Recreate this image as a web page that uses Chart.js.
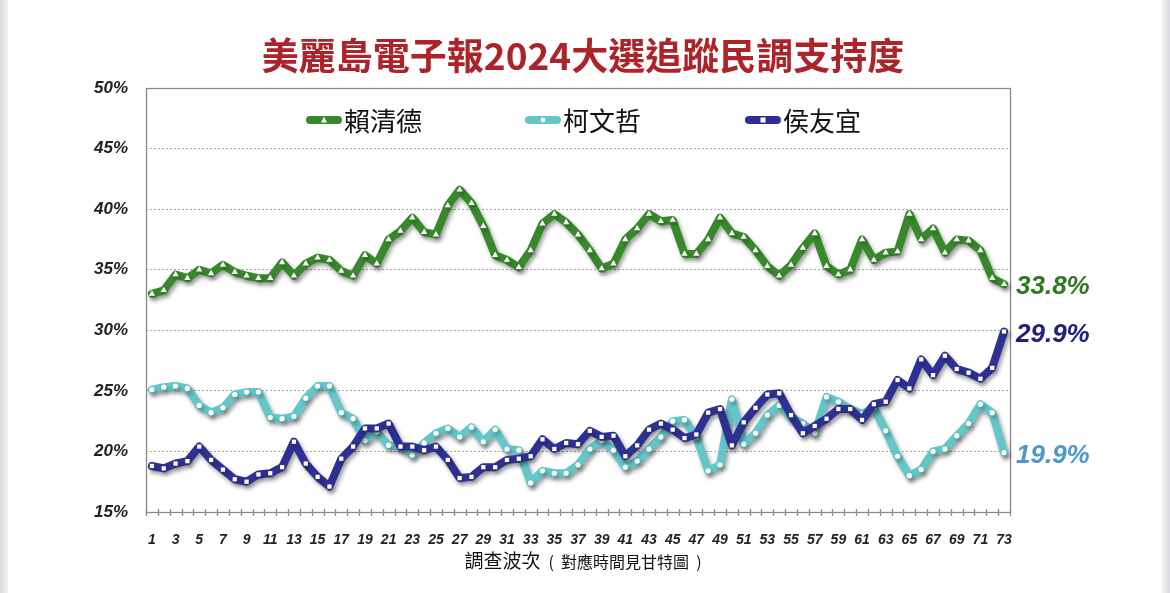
<!DOCTYPE html>
<html>
<head>
<meta charset="utf-8">
<script src="https://cdn.jsdelivr.net/npm/chart.js@4.4.1/dist/chart.umd.min.js"></script>
<style>
  html, body { margin: 0; padding: 0; background: #ffffff; }
  #wrap { position: relative; width: 1170px; height: 593px; overflow: hidden; }
  #c { position: absolute; left: 0; top: 0; }
  .strip { position: absolute; top: 0; width: 8px; height: 593px; }
  #sl { left: 0; background: linear-gradient(to right, #d9d9de, #f3f3f5); }
  #sr { left: 1162px; background: linear-gradient(to left, #d9d9de, #f3f3f5); }
</style>
</head>
<body>
<div id="wrap">
  <canvas id="c" width="1170" height="593"></canvas>
  <div class="strip" id="sl"></div>
  <div class="strip" id="sr"></div>
</div>
<script>
const chartTitle = "美麗島電子報2024大選追蹤民調支持度";
const xTitleMain = "調查波次";
const xTitleSub = "(  對應時間見甘特圖  )";
const waves = Array.from({length: 73}, (_, i) => String(i + 1));
const yTicks = [15, 20, 25, 30, 35, 40, 45, 50];
const seriesNames = ["賴清德", "柯文哲", "侯友宜"];
const endLabels = ["33.8%", "19.9%", "29.9%"];

const lai = [33.0, 33.3, 34.6, 34.3, 35.0, 34.7, 35.4, 34.8, 34.5, 34.3,
             34.3, 35.6, 34.5, 35.5, 36.0, 35.8, 34.9, 34.5, 36.2, 35.5,
             37.5, 38.2, 39.3, 38.1, 37.9, 40.3, 41.6, 40.5, 38.6, 36.2,
             35.8, 35.2, 36.6, 38.8, 39.6, 38.9, 37.9, 36.6, 35.1, 35.5,
             37.5, 38.4, 39.6, 39.0, 39.1, 36.3, 36.3, 37.5, 39.3, 38.0,
             37.7, 36.6, 35.3, 34.5, 35.4, 36.8, 38.0, 35.3, 34.6, 35.0,
             37.5, 35.8, 36.4, 36.5, 39.6, 37.5, 38.4, 36.4, 37.5, 37.4,
             36.6, 34.3, 33.8];
const ko  = [25.1, 25.3, 25.4, 25.2, 23.8, 23.2, 23.6, 24.7, 24.9, 24.9,
             22.8, 22.7, 22.9, 24.4, 25.4, 25.4, 23.2, 22.7, 20.9, 21.6,
             20.5, 20.4, 19.7, 20.7, 21.5, 21.9, 21.2, 22.0, 20.8, 21.8,
             20.2, 20.1, 17.4, 18.4, 18.2, 18.2, 18.9, 20.2, 20.9, 20.1,
             18.7, 19.2, 20.2, 21.2, 22.5, 22.6, 21.2, 18.4, 18.9, 24.3,
             20.6, 21.5, 23.0, 23.8, 22.8, 22.3, 21.5, 24.5, 24.1, 23.5,
             23.1, 23.6, 21.7, 19.6, 18.0, 18.5, 20.0, 20.2, 21.3, 22.3,
             23.9, 23.2, 19.9];
const hou = [18.8, 18.6, 19.0, 19.2, 20.4, 19.3, 18.5, 17.7, 17.5, 18.1,
             18.2, 18.7, 20.8, 19.0, 17.9, 17.1, 19.4, 20.4, 21.9, 21.9,
             22.3, 20.4, 20.4, 20.1, 20.4, 19.3, 17.8, 17.9, 18.7, 18.7,
             19.3, 19.4, 19.6, 21.0, 20.2, 20.7, 20.6, 21.7, 21.2, 21.3,
             19.6, 20.5, 21.8, 22.3, 21.8, 21.1, 21.4, 23.2, 23.5, 20.5,
             22.4, 23.6, 24.7, 24.8, 23.0, 21.5, 22.1, 22.7, 23.5, 23.5,
             22.6, 23.9, 24.1, 25.9, 25.2, 27.6, 26.3, 27.9, 26.8, 26.5,
             26.0, 26.9, 29.9];

const lineColors = ["#37892B", "#63C7C9", "#2E3193"];
const markerStyles = ["triangle", "circle", "rect"];
const markerRadius = [3.6, 2.6, 3.0];
const endLabelColors = ["#2E7A22", "#4C98C6", "#20217F"];
const numFont = "'Liberation Sans Narrow','Liberation Sans',Arial,sans-serif";
const cjkFont = "'Noto Sans CJK TC','Noto Sans CJK SC',sans-serif";

const seriesData = [lai, ko, hou];
const drawOrder = [1, 2, 0];

const datasets = seriesData.map((d, i) => ({
  label: seriesNames[i],
  data: d,
  borderColor: lineColors[i],
  backgroundColor: lineColors[i],
  borderWidth: 8,
  borderJoinStyle: "round",
  borderCapStyle: "round",
  tension: 0,
  fill: false,
  pointStyle: markerStyles[i],
  pointRadius: markerRadius[i],
  pointHoverRadius: markerRadius[i],
  pointBackgroundColor: "#ffffff",
  pointBorderColor: "#ffffff",
  pointBorderWidth: 0,
  order: drawOrder[i]
}));

const shadowPlugin = {
  id: "shadow",
  beforeDatasetDraw(chart) {
    const ctx = chart.ctx;
    ctx.save();
    ctx.shadowColor = "rgba(0,0,0,0.38)";
    ctx.shadowBlur = 4;
    ctx.shadowOffsetX = 2;
    ctx.shadowOffsetY = 3;
  },
  afterDatasetDraw(chart) {
    chart.ctx.restore();
  }
};

const framePlugin = {
  id: "frame",
  beforeDatasetsDraw(chart) {
    const ctx = chart.ctx;
    const a = chart.chartArea;
    ctx.save();
    ctx.strokeStyle = "#8a8a8a";
    ctx.lineWidth = 1.3;
    ctx.strokeRect(a.left + 0.5, a.top + 0.5, a.right - a.left, a.bottom - a.top);
    const n = waves.length;
    const w = (a.right - a.left) / n;
    ctx.beginPath();
    for (let i = 0; i <= n; i++) {
      const x = Math.round(a.left + i * w) + 0.5;
      ctx.moveTo(x, a.bottom - 3);
      ctx.lineTo(x, a.bottom + 4);
    }
    ctx.stroke();
    ctx.restore();
  }
};

const decorPlugin = {
  id: "decor",
  afterDraw(chart) {
    const ctx = chart.ctx;
    const ys = chart.scales.y;
    ctx.save();
    // title
    ctx.fillStyle = "#AC2429";
    ctx.font = "bold 37px " + cjkFont;
    ctx.textAlign = "center";
    ctx.textBaseline = "middle";
    ctx.fillText(chartTitle, 583, 56);

    // legend
    const legendX = [306, 525, 745];
    const ly = 120;
    for (let i = 0; i < 3; i++) {
      const x0 = legendX[i];
      ctx.save();
      ctx.strokeStyle = lineColors[i];
      ctx.lineWidth = 8;
      ctx.lineCap = "round";
      ctx.beginPath();
      ctx.moveTo(x0 + 4, ly);
      ctx.lineTo(x0 + 32, ly);
      ctx.stroke();
      ctx.fillStyle = "#ffffff";
      const cx = x0 + 18;
      if (markerStyles[i] === "triangle") {
        ctx.beginPath();
        ctx.moveTo(cx, ly - 3.5);
        ctx.lineTo(cx + 3, ly + 2.5);
        ctx.lineTo(cx - 3, ly + 2.5);
        ctx.closePath();
        ctx.fill();
      } else if (markerStyles[i] === "circle") {
        ctx.beginPath();
        ctx.arc(cx, ly, 2.4, 0, Math.PI * 2);
        ctx.fill();
      } else {
        ctx.fillRect(cx - 2.5, ly - 2.5, 5, 5);
      }
      ctx.restore();
      ctx.fillStyle = "#111111";
      ctx.font = "26px " + cjkFont;
      ctx.textAlign = "left";
      ctx.textBaseline = "middle";
      ctx.fillText(seriesNames[i], x0 + 38, ly + 1);
    }

    // end labels
    ctx.font = "italic bold 26px " + numFont;
    ctx.textAlign = "left";
    ctx.textBaseline = "middle";
    for (let i = 0; i < 3; i++) {
      const d = seriesData[i];
      const y = ys.getPixelForValue(d[d.length - 1]) + 3;
      ctx.fillStyle = endLabelColors[i];
      ctx.fillText(endLabels[i], 1016, y);
    }

    // x axis title
    ctx.fillStyle = "#111111";
    const f1 = "19px " + cjkFont;
    const f2 = "16px " + cjkFont;
    ctx.font = f1;
    const w1 = ctx.measureText(xTitleMain).width;
    ctx.font = f2;
    const w2 = ctx.measureText(xTitleSub).width;
    const gap = 8;
    const total = w1 + gap + w2;
    const sx = 583 - total / 2;
    ctx.textAlign = "left";
    ctx.font = f1;
    ctx.fillText(xTitleMain, sx, 561);
    ctx.font = f2;
    ctx.fillText(xTitleSub, sx + w1 + gap, 562);
    ctx.restore();
  }
};

new Chart(document.getElementById("c"), {
  type: "line",
  data: { labels: waves, datasets: datasets },
  options: {
    responsive: false,
    animation: false,
    events: [],
    layout: { padding: { left: 86, right: 160, top: 88, bottom: 0 } },
    plugins: {
      legend: { display: false },
      title: { display: false },
      tooltip: { enabled: false }
    },
    scales: {
      x: {
        type: "category",
        offset: true,
        border: { display: false },
        grid: { display: false, offset: true },
        ticks: {
          autoSkip: false,
          maxRotation: 0,
          minRotation: 0,
          padding: 12,
          color: "#222222",
          font: { family: numFont, size: 14, weight: "bold", style: "italic" },
          callback: (v, idx) => (idx % 2 === 0 ? waves[idx] : "")
        },
        afterFit: (s) => { s.height = 81; }
      },
      y: {
        min: 15,
        max: 50,
        afterBuildTicks: (s) => { s.ticks = yTicks.map(v => ({ value: v })); },
        border: { display: false, dash: [2, 2] },
        grid: {
          color: "#a8a8a8",
          lineWidth: 1,
          drawTicks: false
        },
        ticks: {
          padding: 18,
          color: "#222222",
          font: { family: numFont, size: 17, weight: "bold", style: "italic" },
          callback: (v) => v + "%"
        },
        afterFit: (s) => { s.width = 60; }
      }
    }
  },
  plugins: [shadowPlugin, framePlugin, decorPlugin]
});
</script>
</body>
</html>
